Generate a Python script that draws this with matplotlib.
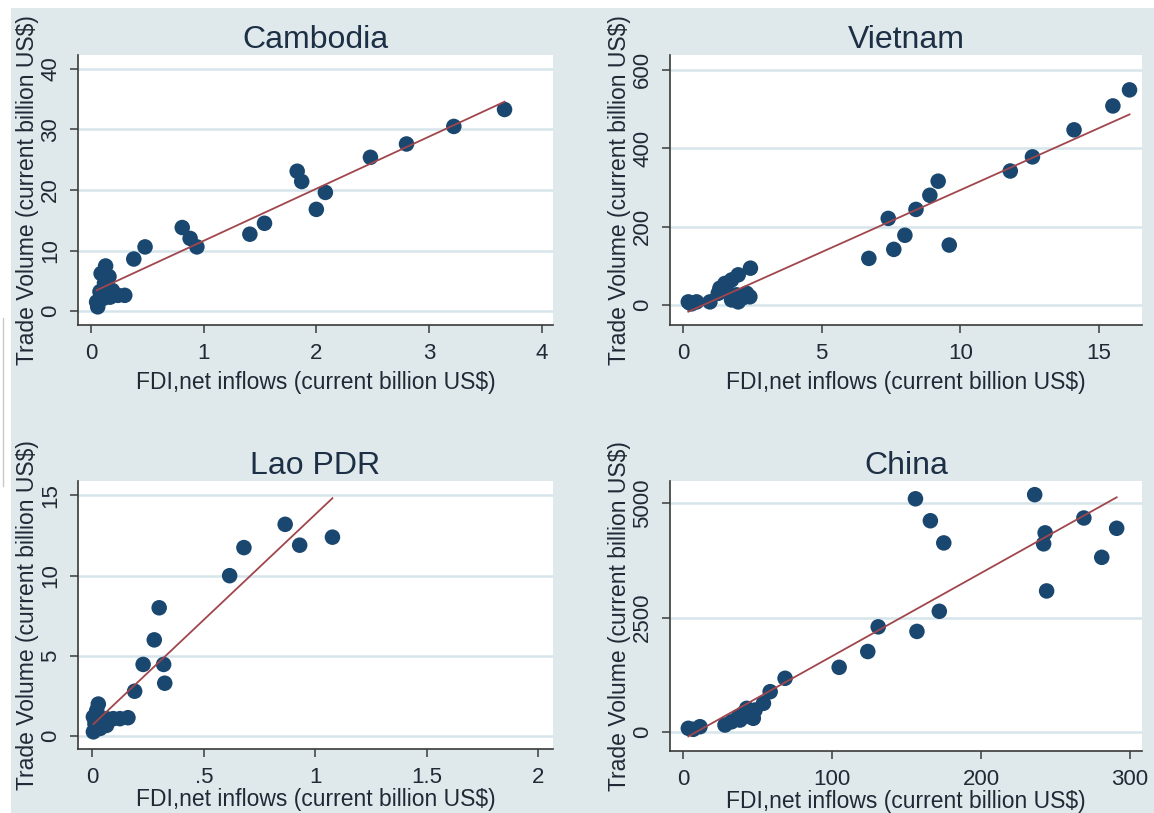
import numpy as np
import matplotlib
matplotlib.use("Agg")
import matplotlib.pyplot as plt
from matplotlib.patches import Rectangle
from matplotlib.lines import Line2D

plt.rcParams['font.family'] = ['Liberation Sans', 'DejaVu Sans']

# values (billion US$)
cam_fdi = [0.05, 0.06, 0.08, 0.09, 0.11, 0.12, 0.13, 0.16, 0.17, 0.19, 0.24, 0.30,
           0.38, 0.48, 0.81, 0.88, 0.94, 1.41, 1.54, 1.83, 1.87, 2.00, 2.08, 2.48,
           2.80, 3.22, 3.67]
cam_trade = [1.5, 0.7, 3.2, 6.2, 2.1, 4.6, 7.45, 5.7, 2.3, 3.4, 2.6, 2.6,
             8.6, 10.6, 13.8, 12.0, 10.6, 12.7, 14.5, 23.1, 21.4, 16.8, 19.6, 25.4,
             27.6, 30.5, 33.3]

vn_fdi = [0.19, 0.25, 0.31, 0.49, 0.97, 1.27, 1.33, 1.51, 1.57, 1.75, 1.75, 1.93,
          1.99, 1.99, 2.15, 2.29, 2.41, 2.43, 6.7, 7.4, 7.6, 8.0, 8.4, 8.9, 9.2,
          9.6, 11.8, 12.6, 14.1, 15.5, 16.1]
vn_trade = [8, 5, 3, 8, 8, 30, 43, 55, 38, 64, 13, 26,
            77, 8, 18, 30, 21, 94, 119, 221, 142, 178, 244, 280, 316,
            153, 342, 378, 447, 508, 549]

lao_fdi = [0.005, 0.005, 0.012, 0.02, 0.027, 0.035, 0.042, 0.064, 0.064, 0.094,
           0.124, 0.16, 0.19, 0.228, 0.32, 0.325, 0.278, 0.30, 0.616, 0.68, 0.865,
           0.93, 1.077]
lao_trade = [0.27, 1.2, 0.77, 1.6, 2.0, 0.48, 0.9, 0.67, 1.09, 1.09,
             1.09, 1.15, 2.8, 4.47, 4.47, 3.3, 6.0, 8.0, 10.0, 11.75, 13.2,
             11.9, 12.4]

cn_fdi = [3.6, 6.9, 11.4, 28.2, 32.7, 37.2, 38.3, 40.5, 42.8, 45, 47.2, 48.4, 54,
          58.5, 68.5, 104.8, 124, 131, 156, 157, 166, 172, 175, 236, 242, 243, 244,
          269, 281, 291]
cn_trade = [81, 59, 116, 153, 225, 335, 262, 409, 518, 335, 300, 481, 628,
            882, 1175, 1415, 1760, 2300, 5100, 2200, 4620, 2640, 4135, 5190, 4115,
            4355, 3085, 4680, 3820, 4455]

panels = [
    ("Cambodia", cam_fdi, cam_trade, [0, 1, 2, 3, 4], ["0", "1", "2", "3", "4"],
     [0, 10, 20, 30, 40], (-0.115, 4.1), (-2.3, 42.3)),
    ("Vietnam", vn_fdi, vn_trade, [0, 5, 10, 15], ["0", "5", "10", "15"],
     [0, 200, 400, 600], (-0.47, 16.55), (-51, 638)),
    ("Lao PDR", lao_fdi, lao_trade, [0, 0.5, 1, 1.5, 2], ["0", ".5", "1", "1.5", "2"],
     [0, 5, 10, 15], (-0.064, 2.066), (-0.8, 15.9)),
    ("China", cn_fdi, cn_trade, [0, 100, 200, 300], ["0", "100", "200", "300"],
     [0, 2500, 5000], (-8.7, 308), (-415, 5489)),
]

W, H = 1154, 813
fig = plt.figure(figsize=(W / 100, H / 100), dpi=100, facecolor="white")

bg = "#DFE8EB"
fig.patches.append(Rectangle((11 / W, 0), 1 - 11 / W, 1 - 8 / H,
                             transform=fig.transFigure, facecolor=bg,
                             edgecolor="none", zorder=-10))
# scan artefact on the left edge
fig.lines.append(Line2D([3 / W, 3 / W], [1 - 318 / H, 1 - 486 / H],
                        transform=fig.transFigure, color="#c8c8c8", lw=1,
                        zorder=-10))

boxes = [(78, 325, 553, 55), (670, 325, 1142, 55),
         (78, 749, 553, 481), (670, 751, 1142, 481)]
xlabel_pads = [5, 5, 0, 0]

navy = "#1A476F"
maroon = "#A0464C"
txt = "#1f2a36"

for (title, xs, ys, xt, xtl, yt, xl, yl), (x0, yb, x1, yt_px), lp in zip(panels, boxes, xlabel_pads):
    ax = fig.add_axes([x0 / W, (H - yb) / H, (x1 - x0) / W, (yb - yt_px) / H])
    ax.set_facecolor("white")
    ax.scatter(xs, ys, s=125, color=navy, edgecolors="none", zorder=3)
    b, a = np.polyfit(xs, ys, 1)
    xx = np.array([min(xs), max(xs)])
    ax.plot(xx, a + b * xx, color=maroon, lw=1.3, zorder=4)

    ax.set_xlim(xl)
    ax.set_ylim(yl)
    ax.set_xticks(xt)
    ax.set_xticklabels(xtl)
    ax.set_yticks(yt)
    ax.set_yticklabels([str(v) for v in yt], rotation=90, va="center")
    ax.grid(axis="y", color="#D6E5EC", lw=1.8, zorder=1)
    ax.set_axisbelow(True)
    for s in ("top", "right"):
        ax.spines[s].set_visible(False)
    for s in ("left", "bottom"):
        ax.spines[s].set_color("#3a3a3a")
        ax.spines[s].set_linewidth(1.2)
    ax.tick_params(direction="out", length=6, width=1.1, color="#3a3a3a",
                   labelsize=16, labelcolor=txt)
    ax.tick_params(axis="x", pad=7)
    ax.tick_params(axis="y", pad=6)
    ax.set_title(title, fontsize=23, color="#1c2f45", pad=5)
    ax.set_xlabel("FDI,net inflows (current billion US$)", fontsize=16.5,
                  color=txt, labelpad=lp)
    ax.set_ylabel("Trade Volume (current billion US$)", fontsize=16.5,
                  color=txt, labelpad=1)

fig.savefig("out.png", dpi=100, facecolor=fig.get_facecolor())
